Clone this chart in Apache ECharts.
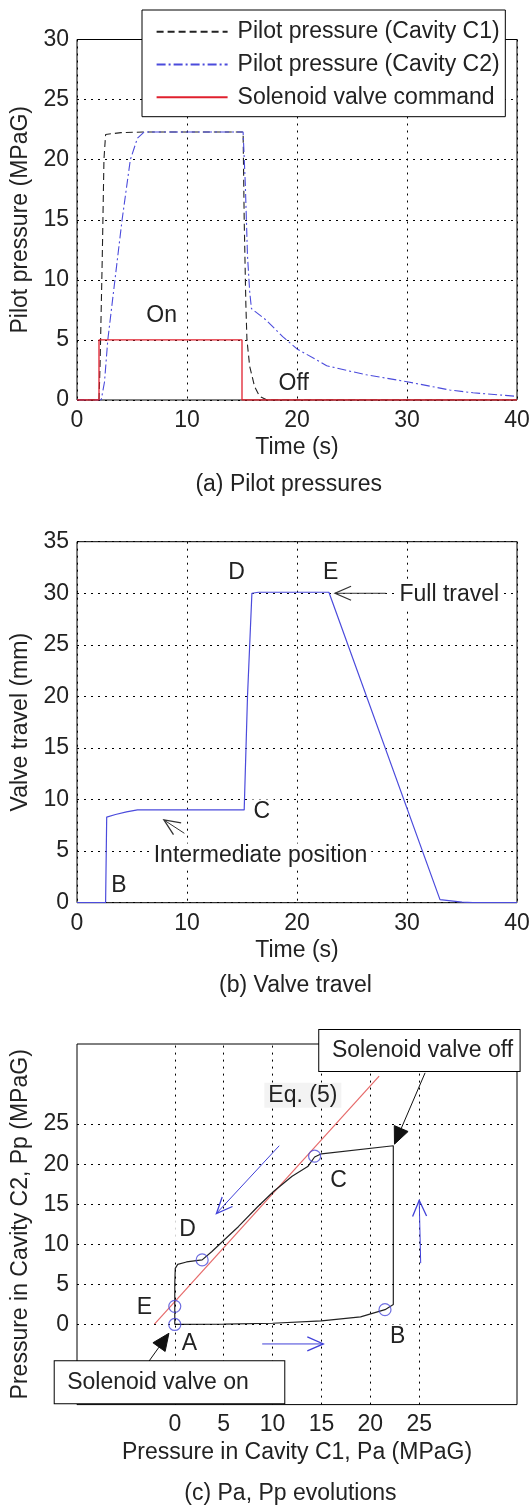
<!DOCTYPE html>
<html><head><meta charset="utf-8">
<script src="https://cdn.jsdelivr.net/npm/echarts@6/dist/echarts.min.js"></script>
<style>html,body{margin:0;padding:0;background:#fff}#c{width:531px;height:1508px}</style>
</head><body><div id="c"></div>
<script>
// ---------- (a) Pilot pressures ----------
const c1Pressure = [[0,0],[2.0,0],[2.1,3],[2.3,12],[2.45,20],[2.6,22.1],[4,22.25],[6,22.3],[15.1,22.3],[15.2,15],[15.35,8],[15.45,5],[15.7,2.8],[16.15,1.1],[16.6,0.3],[17.3,0],[40,0]];
const c2Pressure = [[0,0],[2.2,0],[2.5,1.5],[2.8,5],[3.45,10],[4.1,15],[4.85,20],[5.5,21.8],[6.1,22.3],[15.1,22.3],[15.3,18],[15.5,12],[15.7,9],[15.86,7.6],[17.2,6.65],[18.7,5.27],[20,4.25],[21.8,3.33],[22.7,2.85],[24.8,2.4],[26.3,2.1],[30,1.52],[33.9,0.83],[36,0.6],[40,0.3]];
const solenoidCmd = [[0,0],[2,0],[2,5],[15,5],[15,0],[40,0]];
const seriesNamesA = ['Pilot pressure (Cavity C1)','Pilot pressure (Cavity C2)','Solenoid valve command'];
const labelsA = [{t:'On', x:7.7, y:7.0}, {t:'Off', x:19.7, y:1.4}];

// ---------- (b) Valve travel ----------
const valveTravel = [[0,0],[2.6,0],[2.7,8.3],[3.5,8.55],[4.5,8.8],[5.5,9.0],[15.2,9.0],[15.5,20],[15.9,30],[16.5,30.1],[22.9,30.1],[33.0,0.3],[35,0.05],[36,0],[40,0]];
const labelsB = [{t:'D', x:14.5, y:32}, {t:'E', x:23.05, y:32}, {t:'C', x:16.8, y:8.8}, {t:'B', x:3.8, y:1.7},
  {t:'Full travel', x:33.85, y:29.85}, {t:'Intermediate position', x:16.68, y:4.53}];
const arrowsB = [{from:[28.07,30], to:[23.46,30]}, {from:[9.76,6.73], to:[7.9,8.02]}];

// ---------- (c) Pa, Pp evolutions ----------
const paPpPath = [[0,0],[5,0.05],[10,0.15],[15,0.45],[19,0.95],[21.5,1.85],[22.35,2.5],[22.35,22.3],[15,21.3],[14.3,20.9],[13.6,19.7],[12,18.5],[10.1,16.6],[8.4,14.6],[6.5,12.2],[5.1,10.6],[3.8,9.1],[2.8,8.06],[1.2,7.8],[0.3,7.5],[0.05,7.0],[0,5],[0,2.3],[0,0]];
const eq5Line = [[-2.1,0],[20.9,31]];
const keyPoints = [[0,0],[21.5,1.85],[14.3,21.0],[2.8,8.06],[0,2.26]];
const ticksC = [0,5,10,15,20,25];
const labelsC = [{t:'A', x:1.5, y:-2.4}, {t:'B', x:22.8, y:-1.56}, {t:'C', x:16.75, y:18.0}, {t:'D', x:1.3, y:11.8}, {t:'E', x:-3.1, y:2.1},
  {t:'Eq. (5)', x:13.1, y:28.6, bg:'#f3f3f3'},
  {t:'Solenoid valve off', x:25.02, y:34.2, box:true, pad:[9,6.5,9,12.7]},
  {t:'Solenoid valve on', x:-0.54, y:-7.22, box:true, pad:[9.5,35.5,9.5,12.5]}];
const arrowsC = [
  {from:[25.6,31.4], to:[22.47,22.5], filled:true, color:'#111'},
  {from:[-2.65,-4.6], to:[-0.6,-1.1], filled:true, color:'#111'},
  {from:[10.68,22.3], to:[4.26,13.85], color:'#4040d8'},
  {from:[8.94,-2.43], to:[15.19,-2.43], color:'#4040d8'},
  {from:[25.15,7.65], to:[25.0,15.5], color:'#4040d8'}];

const FONT = "'Liberation Sans', Arial, Helvetica, sans-serif";
const TXT = '#222';
const BLUE = '#4b4bdc';
const gridLine = {show:true, lineStyle:{color:'#000', type:[2,5], width:1}};

function gridBox(top, h){ return {left:77, top:top, width:440, height:h, show:true, borderColor:'#000', borderWidth:1, backgroundColor:'#fff', outerBoundsMode:'none', containLabel:false}; }
function xAx(i, min, max, name, gap, extra){
  return Object.assign({type:'value', gridIndex:i, min:min, max:max, interval:i===2?5:10,
    axisLine:{show:false}, axisTick:{show:false},
    axisLabel:{fontSize:23, color:TXT, fontFamily:FONT, margin:9},
    splitLine:gridLine, name:name, nameLocation:'middle', nameGap:gap,
    nameTextStyle:{fontSize:23, color:TXT, fontFamily:FONT}}, extra||{});
}
function yAx(i, min, max, name, extra){
  return Object.assign({type:'value', gridIndex:i, min:min, max:max, interval:5,
    axisLine:{show:false}, axisTick:{show:false},
    axisLabel:{fontSize:23, color:TXT, fontFamily:FONT, margin:8},
    splitLine:gridLine, name:name, nameLocation:'middle', nameGap:44,
    nameTextStyle:{fontSize:23, color:TXT, fontFamily:FONT}}, extra||{});
}
const onlyC = v => (v>=0 && v<=25) ? String(v) : '';

function textSeries(idx, items){
  return {type:'custom', xAxisIndex:idx, yAxisIndex:idx, clip:false, silent:true, z:20,
    data: items.map(d=>[d.x,d.y]),
    renderItem:(params, api)=>{
      const d = items[params.dataIndex];
      const p = api.coord([api.value(0), api.value(1)]);
      return {type:'text', x:p[0], y:p[1], z2:20, style:{text:d.t, fontSize:23, fontFamily:FONT, fill:TXT,
        align:'center', verticalAlign:'middle',
        backgroundColor: d.box ? '#fff' : (d.bg || '#fff'),
        padding: d.pad || [1,4],
        borderColor: d.box ? '#000' : null, borderWidth: d.box ? 1 : 0}};
    }};
}
function arrowSeries(idx, items){
  return {type:'custom', xAxisIndex:idx, yAxisIndex:idx, clip:false, silent:true, z:15,
    data: items.map(a=>[a.from[0],a.from[1],a.to[0],a.to[1]]),
    renderItem:(params, api)=>{
      const a = items[params.dataIndex];
      const col = a.color || '#333';
      const p1 = api.coord([api.value(0), api.value(1)]);
      const p2 = api.coord([api.value(2), api.value(3)]);
      const dx = p2[0]-p1[0], dy = p2[1]-p1[1], L = Math.hypot(dx,dy), ux = dx/L, uy = dy/L;
      const hl = a.filled ? 17 : 16, hw = a.filled ? 7.5 : 7;
      const bx = p2[0]-ux*hl, by = p2[1]-uy*hl;
      const l = [bx-uy*hw, by+ux*hw], r = [bx+uy*hw, by-ux*hw];
      const end = a.filled ? [bx,by] : p2;
      const ch = [{type:'line', shape:{x1:p1[0],y1:p1[1],x2:end[0],y2:end[1]}, style:{stroke:col, lineWidth:1}}];
      if (a.filled) ch.push({type:'polygon', shape:{points:[l,p2,r]}, style:{fill:col, stroke:col, lineWidth:1}});
      else ch.push({type:'polyline', shape:{points:[l,p2,r]}, style:{stroke:col, lineWidth:1.3, fill:null}});
      return {type:'group', children:ch};
    }};
}

const chart = echarts.init(document.getElementById('c'), null, {renderer:'canvas'});
chart.setOption({
  animation:false,
  backgroundColor:'#fff',
  grid:[gridBox(39.5,360.5), gridBox(541.7,361), gridBox(1044,360.6)],
  xAxis:[
    xAx(0,0,40,'Time (s)',36),
    xAx(1,0,40,'Time (s)',36),
    xAx(2,-10,35,'Pressure in Cavity C1, Pa (MPaG)',37, {splitLine:{show:false},
      axisLabel:{fontSize:23, color:TXT, fontFamily:FONT, margin:9, formatter:onlyC}})
  ],
  yAxis:[
    yAx(0,0,30,'Pilot pressure (MPaG)'),
    yAx(1,0,35,'Valve travel (mm)'),
    yAx(2,-10,35,'Pressure in Cavity C2, Pp (MPaG)', {splitLine:{show:false},
      axisLabel:{fontSize:23, color:TXT, fontFamily:FONT, margin:8, formatter:onlyC}})
  ],
  legend:{show:true, orient:'vertical', left:142, top:10, padding:[9.7,5.7,7.4,13.6],
    itemWidth:71, itemHeight:24, itemGap:8.8, backgroundColor:'#fff', borderColor:'#000', borderWidth:1, borderRadius:0,
    itemStyle:{color:'rgba(0,0,0,0)', borderWidth:0, opacity:0},
    textStyle:{fontSize:23, color:TXT, fontFamily:FONT, lineHeight:24, padding:[0,0,0,5]},
    data:seriesNamesA, z:30},
  graphic:[
    {type:'text', x:288.7, y:485, style:{text:'(a) Pilot pressures', fontSize:23, fontFamily:FONT, fill:TXT, align:'center', verticalAlign:'middle'}},
    {type:'text', x:295.5, y:986, style:{text:'(b) Valve travel', fontSize:23, fontFamily:FONT, fill:TXT, align:'center', verticalAlign:'middle'}},
    {type:'text', x:290.4, y:1494, style:{text:'(c) Pa, Pp evolutions', fontSize:23, fontFamily:FONT, fill:TXT, align:'center', verticalAlign:'middle'}}
  ],
  series:[
    {name:seriesNamesA[0], type:'line', xAxisIndex:0, yAxisIndex:0, data:c1Pressure, symbol:'none', z:3,
      lineStyle:{color:'#222', width:1.1, type:[7,4]}, itemStyle:{color:'#222'}},
    {name:seriesNamesA[1], type:'line', xAxisIndex:0, yAxisIndex:0, data:c2Pressure, symbol:'none', z:4,
      lineStyle:{color:BLUE, width:1.1, type:[9,3,2,3]}, itemStyle:{color:BLUE}},
    {name:seriesNamesA[2], type:'line', xAxisIndex:0, yAxisIndex:0, data:solenoidCmd, symbol:'none', z:5,
      lineStyle:{color:'#e0202e', width:1.3}, itemStyle:{color:'#e0202e'}},
    textSeries(0, labelsA),

    {type:'line', xAxisIndex:1, yAxisIndex:1, data:valveTravel, symbol:'none', z:3,
      lineStyle:{color:BLUE, width:1.2}},
    arrowSeries(1, arrowsB),
    textSeries(1, labelsB),

    {type:'line', xAxisIndex:2, yAxisIndex:2, data:[], symbol:'none', z:1, silent:true,
      markLine:{silent:true, symbol:'none', animation:false, label:{show:false},
        lineStyle:{color:'#000', type:[2,5], width:1},
        data: ticksC.map(v=>({xAxis:v})).concat(ticksC.map(v=>({yAxis:v})))}},
    {type:'line', xAxisIndex:2, yAxisIndex:2, data:eq5Line, symbol:'none', z:3,
      lineStyle:{color:'#e66a6a', width:1.2}},
    {type:'line', xAxisIndex:2, yAxisIndex:2, data:paPpPath, symbol:'none', z:4,
      lineStyle:{color:'#222', width:1.2}},
    {type:'scatter', xAxisIndex:2, yAxisIndex:2, data:keyPoints, symbol:'circle', symbolSize:12, z:5,
      itemStyle:{color:'rgba(0,0,0,0)', borderColor:'#4a4ad8', borderWidth:1.2}},
    arrowSeries(2, arrowsC),
    textSeries(2, labelsC)
  ]
});
</script></body></html>
